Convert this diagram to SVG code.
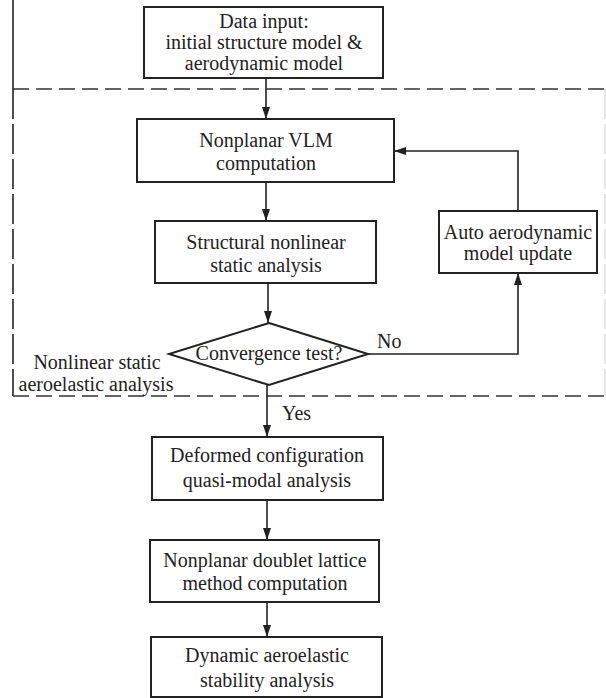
<svg xmlns="http://www.w3.org/2000/svg" width="606" height="698" viewBox="0 0 606 698">
<style>
.box{fill:#fff;stroke:#222;stroke-width:2}
.ln{fill:none;stroke:#222;stroke-width:1.6}
.dash{fill:none;stroke:#333;stroke-width:1.6;stroke-dasharray:16 7}
.t{font-family:'Liberation Serif','DejaVu Serif','Times New Roman',serif;font-size:20px;fill:#222;text-anchor:middle}
.tl{font-family:'Liberation Serif','DejaVu Serif','Times New Roman',serif;font-size:20px;fill:#222;text-anchor:start}
</style>
<defs>
<marker id="ah" markerWidth="12" markerHeight="8" refX="12" refY="4" orient="auto" markerUnits="userSpaceOnUse">
<path d="M0,0 L12,4 L0,8 Z" fill="#222"/>
</marker>
</defs>
<rect width="606" height="698" fill="#fff"/>
<g id="region">
<line x1="13" y1="0" x2="13" y2="89" class="ln"/>
<line x1="13" y1="89" x2="606" y2="89" class="dash"/>
<line x1="13" y1="89" x2="13" y2="396" class="ln" stroke-dasharray="30 5"/>
<line x1="13" y1="396" x2="606" y2="396" class="dash"/>
<line x1="605" y1="89" x2="605" y2="396" stroke="#ccc" stroke-width="1" stroke-dasharray="30 5"/>
<text class="t" x="97" y="369">Nonlinear static</text>
<text class="t" x="96" y="391">aeroelastic analysis</text>
</g>
<g id="connectors">
<line x1="266" y1="78" x2="266" y2="119" class="ln" marker-end="url(#ah)"/>
<line x1="266" y1="182" x2="266" y2="221" class="ln" marker-end="url(#ah)"/>
<line x1="268" y1="283" x2="268" y2="323" class="ln" marker-end="url(#ah)"/>
<line x1="267" y1="385" x2="267" y2="437" class="ln" marker-end="url(#ah)"/>
<line x1="267" y1="500" x2="267" y2="540" class="ln" marker-end="url(#ah)"/>
<line x1="267" y1="602" x2="267" y2="637" class="ln" marker-end="url(#ah)"/>
<polyline points="368,354 518,354 518,273" class="ln" marker-end="url(#ah)"/>
<polyline points="518,211 518,151 394,151" class="ln" marker-end="url(#ah)"/>
<text class="tl" x="377" y="348">No</text>
<text class="tl" x="282" y="420">Yes</text>
</g>
<g id="n1">
<rect x="144" y="7" width="239" height="71" class="box"/>
<text class="t" x="264" y="28">Data input:</text>
<text class="t" x="264" y="49">initial structure model &amp;</text>
<text class="t" x="264" y="70">aerodynamic model</text>
</g>
<g id="n2">
<rect x="137" y="119" width="257" height="63" class="box"/>
<text class="t" x="266" y="147">Nonplanar VLM</text>
<text class="t" x="266" y="170">computation</text>
</g>
<g id="n3">
<rect x="155" y="221" width="221" height="62" class="box"/>
<text class="t" x="266" y="249">Structural nonlinear</text>
<text class="t" x="266" y="272">static analysis</text>
</g>
<g id="n4">
<rect x="439" y="211" width="158" height="62" class="box"/>
<text class="t" x="518" y="239">Auto aerodynamic</text>
<text class="t" x="518" y="260">model update</text>
</g>
<g id="n5">
<polygon points="269,323 368,354 269,385 169,354" class="box"/>
<text class="t" x="269" y="360">Convergence test?</text>
</g>
<g id="n6">
<rect x="152" y="437" width="231" height="63" class="box"/>
<text class="t" x="267" y="462">Deformed configuration</text>
<text class="t" x="267" y="487">quasi-modal analysis</text>
</g>
<g id="n7">
<rect x="150" y="540" width="229" height="62" class="box"/>
<text class="t" x="265" y="567">Nonplanar doublet lattice</text>
<text class="t" x="265" y="590">method computation</text>
</g>
<g id="n8">
<rect x="151" y="637" width="231" height="60" class="box"/>
<text class="t" x="267" y="662">Dynamic aeroelastic</text>
<text class="t" x="267" y="687">stability analysis</text>
</g>
</svg>
